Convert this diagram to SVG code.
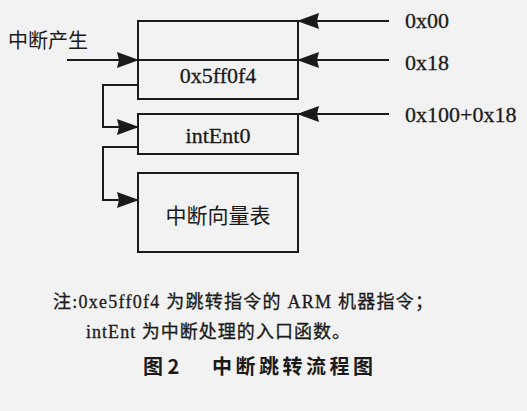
<svg xmlns="http://www.w3.org/2000/svg" width="527" height="411" viewBox="0 0 527 411">
<style>
.box{fill:none;stroke:#1a1a1a;stroke-width:2}
.ln{fill:none;stroke:#1a1a1a;stroke-width:2}
.t{font-family:"Liberation Serif","Noto Sans CJK SC",serif;fill:#1a1a1a;stroke:#1a1a1a;stroke-width:0.3}
.cjk{font-family:"Noto Sans CJK SC",sans-serif;fill:#1a1a1a}
</style>
<defs>
<marker id="ah" markerUnits="userSpaceOnUse" markerWidth="22" markerHeight="16" refX="21" refY="8" orient="auto" viewBox="0 0 22 16">
<path d="M0,0 L22,8 L0,16 L2,8 z" fill="#1a1a1a"/>
</marker>
</defs>
<rect width="527" height="411" fill="#f2f2f2"/>
<g id="node-top">
<rect class="box" x="138" y="21" width="160" height="78"/>
<line class="ln" x1="138" y1="60" x2="298" y2="60"/>
<text class="t" x="218" y="83" font-size="22" text-anchor="middle">0x5ff0f4</text>
</g>
<g id="node-intent">
<rect class="box" x="138" y="114" width="160" height="40"/>
<text class="t" x="218" y="143" font-size="22" text-anchor="middle">intEnt0</text>
</g>
<g id="node-vector">
<rect class="box" x="138" y="173" width="160" height="79"/>
<text class="cjk" x="218" y="223" font-size="21" text-anchor="middle">中断向量表</text>
</g>
<g id="labels">
<text class="cjk" x="8" y="48" font-size="20">中断产生</text>
<text class="t" x="405" y="28" font-size="22">0x00</text>
<text class="t" x="405" y="70" font-size="22">0x18</text>
<text class="t" x="405" y="122" font-size="22">0x100+0x18</text>
</g>
<g id="connectors">
<line class="ln" x1="67" y1="60" x2="138" y2="60" marker-end="url(#ah)"/>
<line class="ln" x1="389" y1="21" x2="298" y2="21" marker-end="url(#ah)"/>
<line class="ln" x1="389" y1="60" x2="298" y2="60" marker-end="url(#ah)"/>
<line class="ln" x1="389" y1="114" x2="298" y2="114" marker-end="url(#ah)"/>
<polyline class="ln" points="138,85 103,85 103,127 138,127" marker-end="url(#ah)"/>
<polyline class="ln" points="138,147 103,147 103,200 138,200" marker-end="url(#ah)"/>
</g>
<g id="notes">
<text class="t" x="53" y="308" font-size="18" stroke-width="0" textLength="380" lengthAdjust="spacing">注:0xe5ff0f4 为跳转指令的 ARM 机器指令；</text>
<text class="t" x="86" y="338" font-size="18" stroke-width="0" textLength="264" lengthAdjust="spacing">intEnt 为中断处理的入口函数。</text>
<text class="cjk" x="143" y="374" font-size="20" font-weight="bold">图 2<tspan x="212" letter-spacing="3.5">中断跳转流程图</tspan></text>
</g>
</svg>
